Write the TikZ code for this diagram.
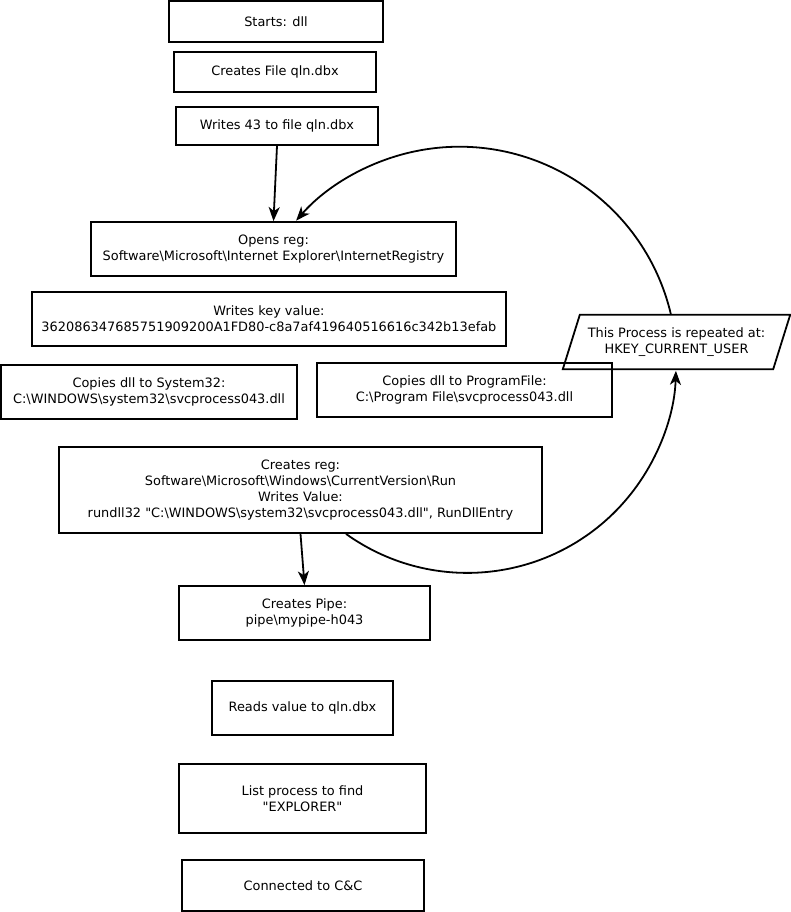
\documentclass[tikz,border=0pt]{standalone}
\usepackage{fontspec}
\setmainfont{DejaVu Sans}
\usetikzlibrary{shapes.geometric,arrows.meta}
\begin{document}
\begin{tikzpicture}[x=1pt,y=-1pt,
  txt/.style={inner sep=0pt,align=center,font=\fontsize{12.9}{16}\selectfont},
  box/.style={txt,draw,line width=1.8pt},
  arr/.style={line width=1.8pt,-{Stealth[length=14pt,width=11pt,inset=4pt]}}]
\useasboundingbox (0,0) rectangle (791,912);
\node[box,minimum width=214,minimum height=41] (b1) at (276,21.5) {Starts: dll};
\node[box,minimum width=202,minimum height=40] (b2) at (275,72) {Creates File qln.dbx};
\node[box,minimum width=202,minimum height=38] (b3) at (277,126) {Writes 43 to file qln.dbx};
\node[box,minimum width=365,minimum height=54] (b4) at (273.5,249) {Opens reg:\\Software\textbackslash Microsoft\textbackslash Internet Explorer\textbackslash InternetRegistry};
\node[box,minimum width=474,minimum height=54] (b5) at (269,319) {Writes key value:\\362086347685751909200A1FD80-c8a7af419640516616c342b13efab};
\node[box,minimum width=296,minimum height=54] (b6) at (149,392) {Copies dll to System32:\\C:\textbackslash WINDOWS\textbackslash system32\textbackslash svcprocess043.dll};
\node[box,minimum width=295,minimum height=54] (b7) at (464.5,390) {Copies dll to ProgramFile:\\C:\textbackslash Program File\textbackslash svcprocess043.dll};
\node[txt,minimum width=227,minimum height=54] (para) at (676.5,342) {This Process is repeated at:\\HKEY\_CURRENT\_USER};
\draw[line width=1.8pt,line join=miter] ([xshift=17]para.north west) -- (para.north east) -- ([xshift=-17]para.south east) -- (para.south west) -- cycle;
\node[box,minimum width=483,minimum height=86] (b9) at (300.5,490) {Creates reg:\\Software\textbackslash Microsoft\textbackslash Windows\textbackslash CurrentVersion\textbackslash Run\\Writes Value:\\rundll32 \textquotedbl C:\textbackslash WINDOWS\textbackslash system32\textbackslash svcprocess043.dll\textquotedbl, RunDllEntry};
\node[box,minimum width=251,minimum height=54] (b10) at (304.5,613) {Creates Pipe:\\pipe\textbackslash mypipe-h043};
\node[box,minimum width=181,minimum height=54] (b11) at (302.5,708) {Reads value to qln.dbx};
\node[box,minimum width=247,minimum height=69] (b12) at (302.5,798.5) {List process to find\\ \textquotedbl EXPLORER\textquotedbl};
\node[box,minimum width=242,minimum height=51] (b13) at (303,885.5) {Connected to C\&C};
\draw[arr] (b3.south) -- (b4.north);
\draw[arr] (b9.south) -- (b10.north);
\draw[arr] ([xshift=-5.5]para.north) arc[start angle=-13.1,end angle=-138.7,radius=217.3];
\draw[arr] ([xshift=45.5]b9.south) arc[start angle=125.6,end angle=1.8,radius=208.6];
\end{tikzpicture}
\end{document}
